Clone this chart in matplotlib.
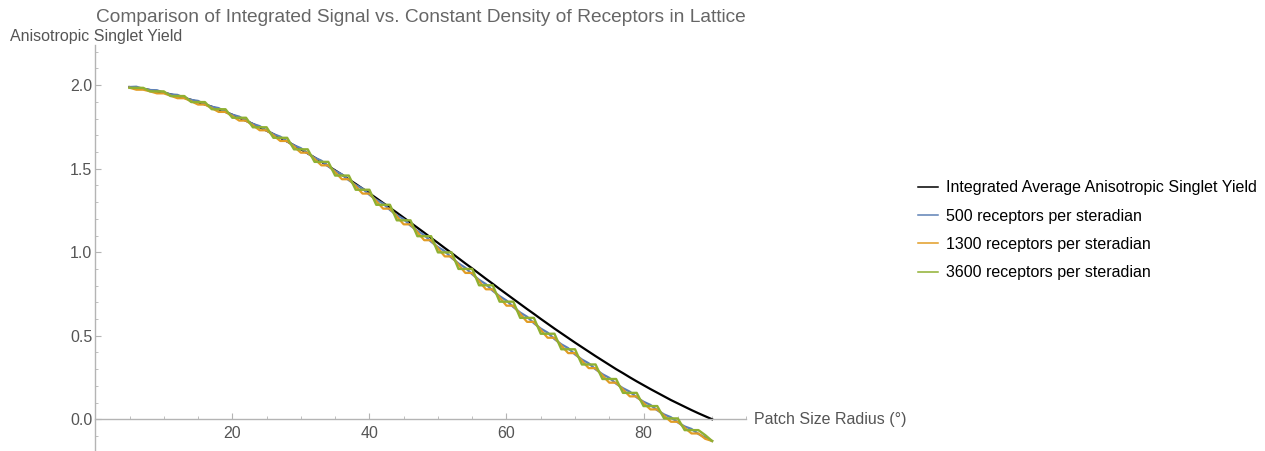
import numpy as np
import matplotlib.pyplot as plt
from matplotlib.ticker import MultipleLocator

plt.rcParams['font.family'] = ['Liberation Sans', 'DejaVu Sans']

# patch radius in degrees
radius = list(range(5, 91))

# integrated average anisotropic singlet yield
integrated = [1.989, 1.984, 1.978, 1.971, 1.963, 1.955, 1.945, 1.935, 1.924, 1.912,
              1.899, 1.885, 1.871, 1.856, 1.840, 1.823, 1.805, 1.787, 1.768, 1.748,
              1.728, 1.707, 1.685, 1.663, 1.640, 1.616, 1.592, 1.567, 1.542, 1.516,
              1.490, 1.464, 1.436, 1.409, 1.381, 1.353, 1.324, 1.295, 1.266, 1.237,
              1.207, 1.177, 1.147, 1.117, 1.086, 1.056, 1.025, 0.995, 0.964, 0.933,
              0.903, 0.872, 0.841, 0.811, 0.780, 0.750, 0.720, 0.690, 0.660, 0.631,
              0.601, 0.572, 0.543, 0.515, 0.487, 0.459, 0.432, 0.405, 0.378, 0.352,
              0.326, 0.300, 0.276, 0.251, 0.227, 0.204, 0.181, 0.159, 0.137, 0.115,
              0.095, 0.075, 0.055, 0.036, 0.018, 0.000]

# lattice sums at 500 receptors / sr
lat500 = [1.989, 1.991, 1.978, 1.971, 1.970, 1.955, 1.945, 1.942, 1.924, 1.912,
          1.906, 1.885, 1.871, 1.863, 1.840, 1.823, 1.812, 1.787, 1.768, 1.755,
          1.728, 1.707, 1.692, 1.663, 1.640, 1.623, 1.592, 1.566, 1.548, 1.514,
          1.487, 1.466, 1.431, 1.403, 1.381, 1.344, 1.314, 1.291, 1.253, 1.222,
          1.198, 1.159, 1.128, 1.103, 1.063, 1.031, 1.006, 0.966, 0.933, 0.907,
          0.868, 0.835, 0.809, 0.769, 0.737, 0.711, 0.672, 0.639, 0.614, 0.575,
          0.543, 0.519, 0.480, 0.449, 0.426, 0.388, 0.358, 0.335, 0.299, 0.270,
          0.248, 0.213, 0.186, 0.165, 0.131, 0.105, 0.086, 0.054, 0.029, 0.012,
          -0.019, -0.043, -0.058, -0.088, -0.109, -0.130]

# lattice sums at 1300 receptors / sr
lat1300 = [1.985, 1.973, 1.973, 1.963, 1.951, 1.951, 1.937, 1.922, 1.922, 1.904,
           1.884, 1.884, 1.863, 1.840, 1.840, 1.815, 1.788, 1.788, 1.760, 1.730,
           1.730, 1.699, 1.666, 1.666, 1.632, 1.596, 1.596, 1.558, 1.520, 1.520,
           1.479, 1.437, 1.437, 1.395, 1.351, 1.351, 1.306, 1.261, 1.261, 1.214,
           1.167, 1.167, 1.120, 1.072, 1.072, 1.023, 0.975, 0.975, 0.925, 0.876,
           0.876, 0.827, 0.778, 0.778, 0.729, 0.680, 0.680, 0.631, 0.583, 0.583,
           0.535, 0.488, 0.488, 0.441, 0.396, 0.396, 0.350, 0.306, 0.306, 0.262,
           0.219, 0.219, 0.178, 0.137, 0.137, 0.097, 0.059, 0.059, 0.021, -0.015,
           -0.015, -0.051, -0.085, -0.085, -0.117, -0.130]

# lattice sums at 3600 receptors / sr
lat3600 = [1.984, 1.984, 1.984, 1.963, 1.963, 1.963, 1.935, 1.935, 1.935, 1.899,
           1.899, 1.899, 1.856, 1.856, 1.856, 1.805, 1.805, 1.805, 1.748, 1.748,
           1.748, 1.685, 1.685, 1.685, 1.616, 1.616, 1.616, 1.541, 1.541, 1.541,
           1.459, 1.459, 1.459, 1.374, 1.374, 1.374, 1.284, 1.284, 1.284, 1.191,
           1.191, 1.191, 1.096, 1.096, 1.096, 0.999, 0.999, 0.999, 0.900, 0.900,
           0.900, 0.802, 0.802, 0.802, 0.704, 0.704, 0.704, 0.607, 0.607, 0.607,
           0.512, 0.512, 0.512, 0.419, 0.419, 0.419, 0.328, 0.328, 0.328, 0.241,
           0.241, 0.241, 0.158, 0.158, 0.158, 0.079, 0.079, 0.079, 0.005, 0.005,
           0.005, -0.065, -0.065, -0.065, -0.095, -0.130]

labels = ['Integrated Average Anisotropic Singlet Yield',
          '500 receptors per steradian',
          '1300 receptors per steradian',
          '3600 receptors per steradian']
colors = ['black', '#5e81b5', '#e19c24', '#8fb032']

fig = plt.figure(figsize=(12.65, 4.51), dpi=100)
ax = fig.add_axes([0.0753, 0.0, 0.5147, 0.90])

ax.plot(radius, integrated, color=colors[0], lw=1.6, label=labels[0], zorder=2)
ax.plot(radius, lat500, color=colors[1], lw=1.6, label=labels[1], zorder=3)
ax.plot(radius, lat1300, color=colors[2], lw=1.6, label=labels[2], zorder=4)
ax.plot(radius, lat3600, color=colors[3], lw=1.7, label=labels[3], zorder=5)

ax.set_xlim(0, 95)
ax.set_ylim(-0.19, 2.24)

axis_gray = '#b4b4b4'
text_gray = '#555555'
ax.spines['top'].set_visible(False)
ax.spines['right'].set_visible(False)
ax.spines['bottom'].set_position(('data', 0))
for s in ['left', 'bottom']:
    ax.spines[s].set_color(axis_gray)
    ax.spines[s].set_linewidth(1.0)

ax.xaxis.set_major_locator(MultipleLocator(20))
ax.xaxis.set_minor_locator(MultipleLocator(5))
ax.yaxis.set_major_locator(MultipleLocator(0.5))
ax.yaxis.set_minor_locator(MultipleLocator(0.1))
ax.set_xticks([20, 40, 60, 80])
ax.yaxis.set_major_formatter(plt.FuncFormatter(lambda v, p: f'{v:.1f}'))
ax.tick_params(which='both', direction='in', color=axis_gray, labelcolor=text_gray,
               labelsize=11.5)
ax.tick_params(which='major', length=4, width=0.8)
ax.tick_params(which='minor', length=2.5, width=0.6)
ax.tick_params(axis='x', pad=5)
ax.tick_params(axis='y', pad=2)

ax.text(1.012, 0.19 / 2.43, 'Patch Size Radius (°)', transform=ax.transAxes,
        ha='left', va='center', fontsize=11.5, color=text_gray)
fig.text(0.008, 0.92, 'Anisotropic Singlet Yield', ha='left', va='center',
         fontsize=11.5, color=text_gray)
fig.text(0.333, 0.962, 'Comparison of Integrated Signal vs. Constant Density of Receptors in Lattice',
         ha='center', va='center', fontsize=13.8, color='#666666')

leg = ax.legend(loc='upper left', bbox_to_anchor=(0.7146, 0.632), bbox_transform=fig.transFigure,
                frameon=False, fontsize=11.5, handlelength=1.25, handletextpad=0.5,
                labelspacing=0.83)
# thinner strokes for the legend keys
for h in leg.legend_handles:
    h.set_linewidth(1.1)

fig.savefig('out.png', dpi=100)
